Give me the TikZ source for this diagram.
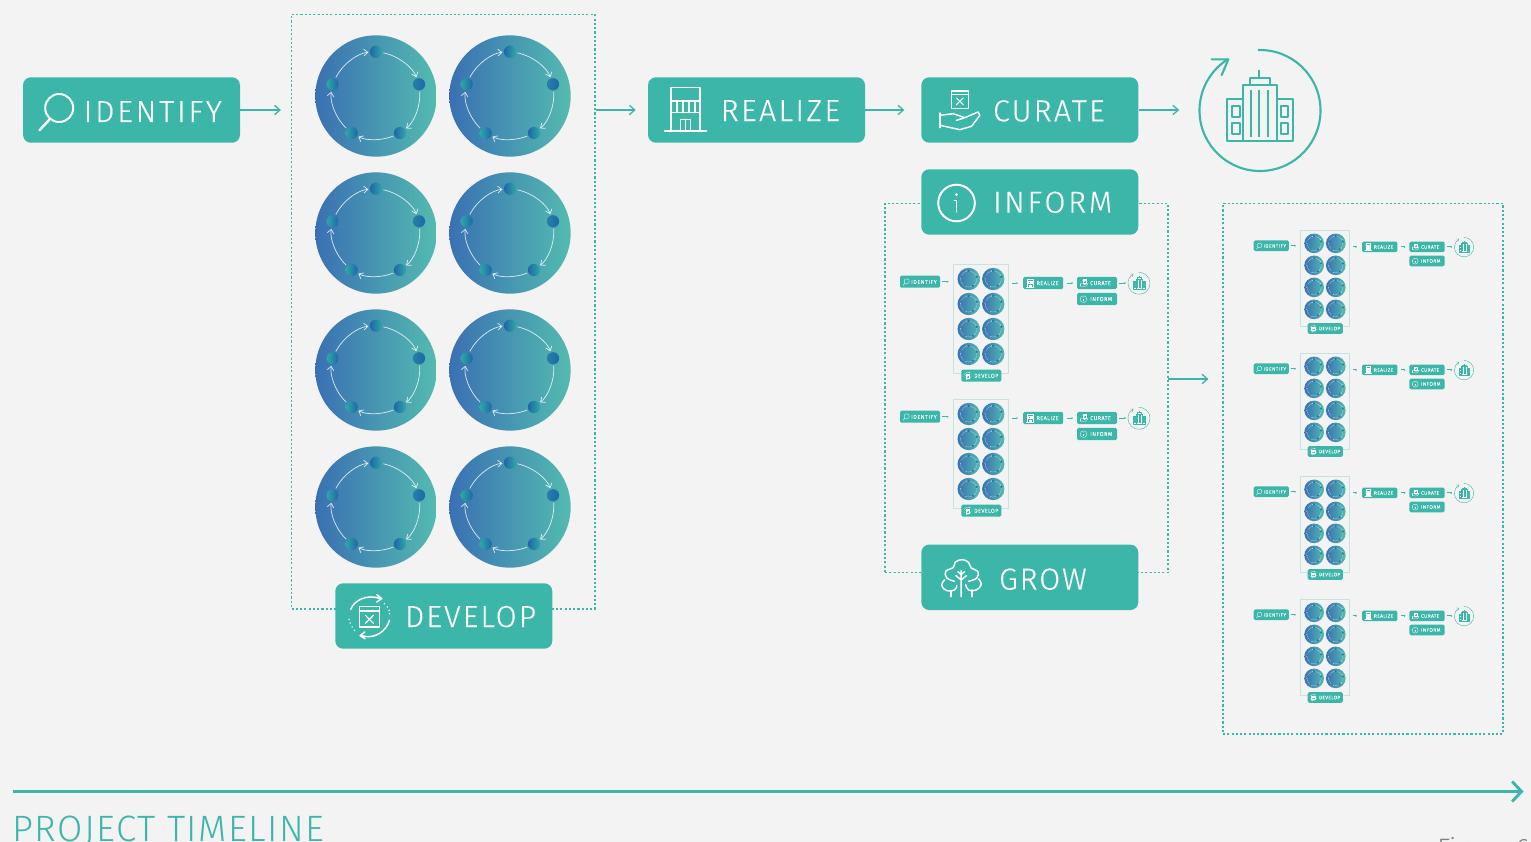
\documentclass[tikz,border=0pt]{standalone}
\usepackage{fontspec}
\setmainfont{Fira Sans Light}
\newfontfamily\tagfont[FakeBold=.25]{Fira Sans Light}
\newfontfamily\tlfont[LetterSpace=4]{Fira Sans Light}
\usetikzlibrary{arrows.meta}
\definecolor{teal1}{HTML}{3DB6AA}
\definecolor{bg1}{HTML}{F3F3F3}
\definecolor{discL}{HTML}{3A70B3}
\definecolor{discR}{HTML}{53BBB0}
\definecolor{dotB}{HTML}{1F66A8}
\definecolor{dotT}{HTML}{2FA8A6}
\def\iconlw{1.1pt}
\def\ringlw{.55pt}
\def\ringtip{3pt}
\def\ringtipw{5pt}
\def\ringgap{5.7pt}
\def\ringgapb{.8pt}
\def\bldlw{1.3pt}
\def\bldringlw{1.6pt}
\def\tagcorner{6pt}
\newcommand\spaced[2]{{\addfontfeature{LetterSpace=#1}#2}}
\tikzset{
 tagbase/.style={fill=teal1,rounded corners=\tagcorner,minimum width=162.75pt,minimum height=49.1pt,inner sep=0pt},
 tagtext/.style={anchor=base west,inner sep=0pt,text=white,font=\tagfont\fontsize{22.8}{24}\selectfont},
 icon/.style={draw=white,line width=\iconlw,line cap=round,line join=round},
 flow/.style={draw=teal1,line width=1pt,-{Straight Barb[length=4pt,width=7pt]}},
 miniflow/.style={draw=teal1,line width=.6pt,-{Straight Barb[length=.5pt,width=1pt]}},
 dashframe/.style={draw=teal1,line width=.85pt,dash pattern=on 1.6pt off 1.6pt,inner sep=0pt},
 miniframe/.style={draw=teal1!25!bg1,line width=.45pt,inner sep=0pt,minimum width=41.5pt,minimum height=82pt},
 discbase/.style={circle,inner sep=0pt,minimum size=91pt,left color=discL,right color=discR},
 dotnode/.style={circle,inner sep=0pt,minimum size=9.2pt},
 dotbt/.style={dotnode,left color=dotB,right color=dotT},
 dottb/.style={dotnode,left color=dotT,right color=dotB},
 dotrr/.style={dotnode,left color=dotB!60!dotT,right color=dotB},
 ring/.style={draw=white,draw opacity=.8,line width=\ringlw,shorten >=\ringgap,shorten <=\ringgapb,looseness=.92,-{Straight Barb[length=\ringtip,width=\ringtipw]}},
 bld/.style={draw=teal1,line width=\bldlw,line join=round},
 tagscale/.style={scale=.1843,transform shape},
 disc/.pic={
  \node[discbase] (-c) at (0,0) {};
  \node[dotbt] (-d1) at (0,44.3) {};
  \node[dotrr] (-d2) at (43,11.7) {};
  \node[dotbt] (-d3) at (24,-37) {};
  \node[dottb] (-d4) at (-24.3,-37) {};
  \node[dottb] (-d5) at (-43.3,11.7) {};
  \draw[ring] (-d1) to[bend left=29] (-d2);
  \draw[ring] (-d2) to[bend left=28] (-d3);
  \draw[ring] (-d3) to[bend left=25] (-d4);
  \draw[ring] (-d4) to[bend left=28] (-d5);
  \draw[ring] (-d5) to[bend left=29] (-d1);
 },
 identifytag/.pic={
  \node[tagbase] (-box) at (0,0) {};
  \node[tagtext] (-text) at (-48,-12) {\spaced{9.5}{IDENTIFY}};
  \draw[icon,line width=1.35*\iconlw] (-72.3,2) circle[radius=14];
  \draw[icon,line width=1.6*\iconlw] (-81.5,-9) -- (-92,-20.3);
 },
 realizetag/.pic={
  \node[tagbase] (-box) at (0,0) {};
  \node[tagtext] (-text) at (-36,-11) {\spaced{7.8}{REALIZE}};
  \begin{scope}[xscale=.3333,yscale=-.3333,shift={(-350,-119)}]
   \draw[icon] (93,183) -- (93,52) -- (181,52) -- (181,183);
   \draw[icon,line width=1.2*\iconlw] (75,183) -- (200,183);
   \draw[icon] (93,92) -- (181,92) (93,127) -- (181,127);
   \draw[icon] (112,92) -- (112,127) (130,92) -- (130,127) (147,92) -- (147,127) (165,92) -- (165,127);
   \draw[icon] (122,183) -- (122,147) -- (152,147) -- (152,183) (137,147) -- (137,183);
  \end{scope}
 },
 curatetag/.pic={
  \node[tagbase] (-box) at (0,0) {};
  \node[tagtext] (-text) at (-37,-11.3) {\spaced{7.3}{CURATE}};
  \begin{scope}[xscale=.3333,yscale=-.3333,shift={(-360,-209)}]
   \draw[icon,line width=.7*\iconlw] (125,152) rectangle (177,205) (125,163) -- (177,163);
   \draw[icon,line width=.7*\iconlw] (140,173) -- (160,193) (160,173) -- (140,193);
   \draw[icon] (91,218) -- (91,262);
   \draw[icon] (91,225) -- (130,220) -- (165,232) -- (140,240) (165,232) -- (205,215) -- (210,225) -- (185,258) -- (150,268) -- (91,255);
  \end{scope}
 },
 informtag/.pic={
  \node[tagbase] (-box) at (0,0) {};
  \node[tagtext] (-text) at (-37,-10.7) {\spaced{9}{INFORM}};
  \draw[icon,line width=1.35*\iconlw] (-73.3,-1) circle[radius=18.3];
  \fill[white] (-73.3,7.3) circle[radius=1.5];
  \draw[icon] (-75.5,1.7) -- (-73.3,1.7) -- (-73.3,-10);
 },
 growtag/.pic={
  \node[tagbase] (-box) at (0,0) {};
  \node[tagtext] (-text) at (-31,-12.3) {\spaced{6}{GROW}};
  \begin{scope}[xscale=.3333,yscale=-.3333,shift={(-344,-110)}]
   \draw[icon] plot[smooth,tension=.7] coordinates {(118,122) (95,112) (92,92) (115,80) (120,65) (140,57) (160,65) (168,82) (188,92) (185,112) (160,122)};
   \draw[icon] plot[smooth,tension=.8] coordinates {(88,118) (80,135) (95,150) (118,148) (125,135)};
   \draw[icon] plot[smooth,tension=.8] coordinates {(190,115) (198,132) (183,148) (160,148) (152,132)};
   \draw[icon] (138,90) -- (138,168) (138,118) -- (122,105) (138,118) -- (154,105) (138,102) -- (128,93) (138,102) -- (148,93);
   \draw[icon] (107,150) -- (107,168) (170,148) -- (170,168);
  \end{scope}
 },
 developtag/.pic={
  \node[tagbase] (-box) at (0,0) {};
  \node[tagtext] (-text) at (-39,-11) {\spaced{7}{DEVELOP}};
  \begin{scope}[xscale=.3333,yscale=-.3333,shift={(-341,-122)}]
   \draw[icon,line width=.8*\iconlw] (88,93) rectangle (147,155) (88,107) -- (147,107);
   \draw[icon,line width=.8*\iconlw] (106,120) -- (130,144) (130,120) -- (106,144);
   \draw[icon] (62,102) .. controls (72,75) and (110,55) .. (152,70);
   \draw[icon] (140,58) -- (155,70) -- (140,80);
   \draw[icon] (178,135) .. controls (170,165) and (135,195) .. (92,180);
   \draw[icon] (104,170) -- (90,181) -- (105,190);
   \foreach \p in {(163,85),(172,95),(177,105),(178,115),(57,132),(60,143),(66,155),(73,165)} {\fill[white] \p circle[radius=2.4];}
  \end{scope}
 },
 buildingicon/.pic={
  \node[circle,inner sep=0pt,minimum size=90.75pt] (-ring) at (0,0) {};
  \draw[bld,line width=\bldringlw] (92:60.5) arc[start angle=92,delta angle=-330,radius=60.5];
  \begin{scope}[xscale=.3333,yscale=-.3333,shift={(-1050,-211.5)}]
   \draw[bld,line width=\bldringlw,line cap=round] (905,58) -- (955,58) -- (935,105);
   \draw[bld] (998,302) rectangle (1100,135);
   \draw[bld] (950,302) rectangle (998,177);
   \draw[bld] (1100,302) rectangle (1150,177);
   \draw[bld] (1020,135) rectangle (1080,113);
   \draw[bld] (1048,113) -- (1048,90);
   \draw[bld] (1022,150) -- (1022,290) (1048,150) -- (1048,290) (1074,150) -- (1074,290);
   \draw[bld] (966,197) rectangle (990,230) (966,248) rectangle (990,282);
   \draw[bld] (1112,197) rectangle (1134,230) (1112,248) rectangle (1134,282);
  \end{scope}
 },
 minidiagram/.pic={
  \def\iconlw{.17pt}\def\ringlw{.1pt}\def\ringtip{.5pt}\def\ringtipw{.8pt}\def\ringgap{1.05pt}\def\ringgapb{.15pt}
  \def\bldlw{.2pt}\def\bldringlw{.3pt}\def\tagcorner{1.1pt}
  \node[miniframe] (-frame) at (81,-37) {};
  \foreach \cx/\cc in {68.7/a,93.3/b} \foreach \cy/\rr in {3/1,-22/2,-47/3,-72/4}
   {\pic[tagscale] (-disc\cc\rr) at (\cx,\cy) {disc};}
  \pic[tagscale] (-id) at (20,.3) {identifytag};
  \pic[tagscale] (-dev) at (81.3,-93.7) {developtag};
  \pic[tagscale] (-rea) at (143.2,-1) {realizetag};
  \pic[tagscale] (-cur) at (197,-1) {curatetag};
  \pic[tagscale] (-inf) at (197,-17) {informtag};
  \pic[scale=.182,transform shape] (-bld) at (239,-1.3) {buildingicon};
  \draw[miniflow,shorten <=1.4pt,shorten >=3.4pt] (-id-box.east) -- (-id-box.east -| -frame.west);
  \draw[miniflow,shorten <=2.4pt,shorten >=3.9pt] (-frame.east |- -rea-box.west) -- (-rea-box.west);
  \draw[miniflow,shorten <=3pt,shorten >=3pt] (-rea-box.east) -- (-cur-box.west);
  \draw[miniflow,shorten <=1.6pt,shorten >=1.6pt] (-cur-box.east) -- (-cur-box.east -| -bld-ring.west);
 }
}
\begin{document}
\begin{tikzpicture}[x=.75pt,y=.75pt]
\useasboundingbox (0,0) rectangle (1531,-842);
\fill[bg1] (0,0) rectangle (1531,-842);
% frames
\node[dashframe,minimum width=227.6pt,minimum height=445.9pt] (devframe) at (443.25,-311.75) {};
\node[dashframe,minimum width=212.25pt,minimum height=276.75pt] (infframe) at (1026.5,-388) {};
\node[dashframe,minimum width=210pt,minimum height=397.9pt] (outframe) at (1363,-468.75) {};
% discs
\foreach \cx/\cc in {376/a,510/b} \foreach \cy/\rr in {96/1,233/2,370/3,507/4}
 {\pic (disc\cc\rr) at (\cx,-\cy) {disc};}
% tags
\pic (identify) at (131.5,-110) {identifytag};
\pic (realize) at (756.5,-110) {realizetag};
\pic (curate) at (1029.8,-110) {curatetag};
\pic (inform) at (1029.8,-202) {informtag};
\pic (grow) at (1029.8,-577.3) {growtag};
\pic (develop) at (443.75,-616) {developtag};
\pic (building) at (1260,-110.5) {buildingicon};
% connectors
\draw[flow,shorten >=7.5pt] (identify-box.east) -- (identify-box.east -| devframe.west);
\draw[flow,shorten >=9pt] (devframe.east |- realize-box.west) -- (realize-box.west);
\draw[flow,shorten >=12.5pt] (realize-box.east) -- (curate-box.west);
\draw[flow,shorten >=15pt] (curate-box.east) -- (curate-box.east -| building-ring.west);
\coordinate (infout) at (1168,-379);
\draw[flow,shorten >=10.5pt] (infout) -- (infout -| outframe.west);
% minis
\pic (minia) at (900,-282) {minidiagram};
\pic (minib) at (900,-417) {minidiagram};
\foreach \yy/\nn in {246/c,369/d,492/e,615/f}
 {\pic[scale=.88,transform shape] (mini\nn) at (1253.7,-\yy) {minidiagram};}
% timeline
\coordinate (tlstart) at (13,-791.5);
\coordinate (tlend) at (1523.5,-791.5);
\draw[draw=teal1,line width=2.2pt,-{Straight Barb[length=7pt,width=15pt]}] (tlstart) -- (tlend);
\node[anchor=base west,inner sep=0pt,text=teal1,font=\tlfont\fontsize{27.5}{30}\selectfont] (timeline) at (12,-841.3) {PROJECT TIMELINE};
\node[anchor=base west,inner sep=0pt,text=black!50,font=\fontsize{20}{22}\selectfont] (figlabel) at (1437,-857) {Figure 6};
\end{tikzpicture}
\end{document}
